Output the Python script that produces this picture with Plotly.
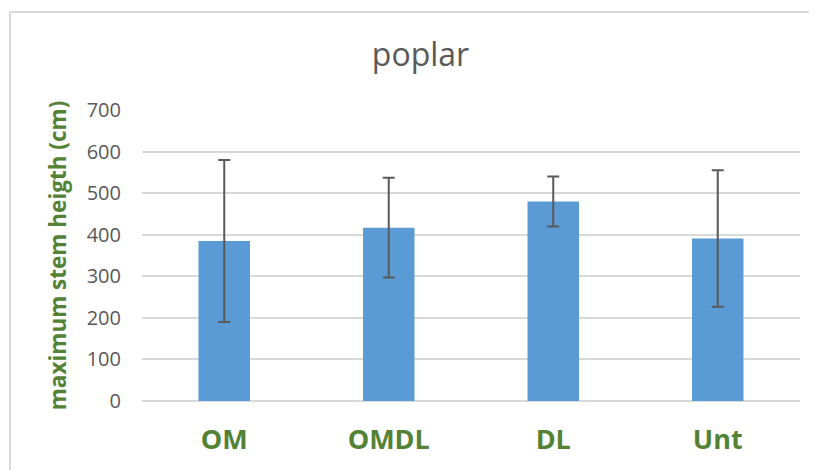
import plotly.graph_objects as go

categories = ["OM", "OMDL", "DL", "Unt"]
values = [385, 417, 480, 391]
errors = [195, 120, 60, 164]

title_text = "poplar"
y_title = "maximum stem heigth (cm)"
y_ticks = [0, 100, 200, 300, 400, 500, 600, 700]

# page body adds an 8px offset; compensate
OFF = 8
W, H = 817 - OFF, 470 - OFF
L = 142 - OFF
T = 110 - OFF
R = W - (800 - OFF)
B = H - (401 - OFF)
pw = W - L - R
ph = H - T - B

def px_x(px):
    return (px - OFF - L) / pw

def px_y(py):
    return (H - B - (py - OFF)) / ph

green = "#548235"
gray = "#595959"

fig = go.Figure(
    go.Bar(
        x=categories,
        y=values,
        marker=dict(color="#5B9BD5", line=dict(width=0)),
        error_y=dict(type="data", array=errors, visible=True,
                     color=gray, thickness=2, width=6),
    )
)

fig.update_layout(
    width=W, height=H,
    margin=dict(l=L, r=R, t=T, b=B),
    paper_bgcolor="white", plot_bgcolor="white",
    bargap=0.687,
    showlegend=False,
    font=dict(family="Open Sans", color=gray),
    title=dict(text=title_text, x=(420.5 - OFF) / W, xanchor="center",
               y=1 - (55 - OFF) / H, yanchor="middle", yref="container",
               font=dict(family="Open Sans", size=32, color=gray)),
    xaxis=dict(
        showgrid=False, showline=False, zeroline=False,
        tickfont=dict(family="Open Sans", size=27, color=green, weight="bold"),
        ticks="", ticklabelstandoff=20,
    ),
    yaxis=dict(
        range=[0, 700], tickvals=y_ticks,
        showgrid=True, gridcolor="#d9d9d9", gridwidth=1.5,
        zeroline=True, zerolinecolor="#d9d9d9", zerolinewidth=1.5,
        showline=False, ticks="", ticklabelstandoff=20,
        tickfont=dict(family="Open Sans", size=20, color=gray),
        title=dict(text=y_title, standoff=13,
                   font=dict(family="Open Sans", size=22.5, color=green, weight="bold")),
    ),
    shapes=[
        dict(type="line", xref="paper", yref="paper",
             x0=px_x(10), x1=px_x(10), y0=px_y(480), y1=px_y(12),
             line=dict(color="#d9d9d9", width=2)),
        dict(type="line", xref="paper", yref="paper",
             x0=px_x(10), x1=px_x(817), y0=px_y(12), y1=px_y(12),
             line=dict(color="#d9d9d9", width=2)),
    ],
)

fig.write_html("out.html", config={"displayModeBar": False})
